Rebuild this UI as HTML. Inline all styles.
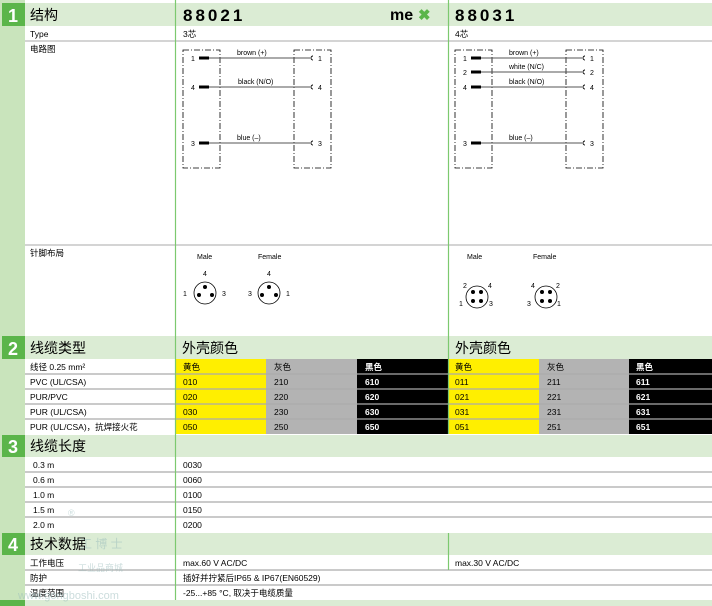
<!DOCTYPE html>
<html><head><meta charset="utf-8"><style>
body{margin:0;background:#fff}
svg{display:block}
text{font-family:"Liberation Sans","Noto Sans CJK SC",sans-serif}
</style></head><body>
<svg width="712" height="606" viewBox="0 0 712 606" xmlns="http://www.w3.org/2000/svg">
<defs>
<g id="pinM"><circle r="12" fill="none" stroke="#000" stroke-width="0.8"/></g>
</defs>
<rect width="712" height="606" fill="#fff"/>
<!-- left strip -->
<rect x="0" y="0" width="25" height="606" fill="#c9e4bc"/>
<!-- section headers -->
<rect x="25" y="3" width="687" height="23" fill="#dbecd4"/>
<rect x="25" y="336" width="687" height="23" fill="#dbecd4"/>
<rect x="25" y="435" width="687" height="22" fill="#dbecd4"/>
<rect x="25" y="533" width="687" height="22" fill="#dbecd4"/>
<rect x="0" y="600" width="712" height="6" fill="#dbecd4"/>
<rect x="0" y="600" width="25" height="6" fill="#5bb54a"/>
<rect x="2" y="3" width="23" height="23" fill="#5bb54a"/>
<rect x="2" y="336" width="23" height="23" fill="#5bb54a"/>
<rect x="2" y="435" width="23" height="22" fill="#5bb54a"/>
<rect x="2" y="533" width="23" height="22" fill="#5bb54a"/>
<g font-weight="bold" fill="#fff" font-size="18" text-anchor="middle">
<text x="13" y="22">1</text><text x="13" y="355">2</text><text x="13" y="453">3</text><text x="13" y="551">4</text></g>
<!-- header texts -->
<g font-size="14" fill="#000">
<text x="30" y="20">结构</text><text x="30" y="353">线缆类型</text><text x="30" y="451">线缆长度</text><text x="30" y="549">技术数据</text>
<text x="182" y="353">外壳颜色</text><text x="455" y="353">外壳颜色</text></g>
<text x="183" y="21" font-size="17" font-weight="bold" letter-spacing="3">88021</text>
<text x="455" y="21" font-size="17" font-weight="bold" letter-spacing="3">88031</text>
<text x="390" y="20" font-size="16" font-weight="bold">me</text>
<text x="418" y="20" font-size="15" font-weight="bold" fill="#5bb54a">✖</text>
<!-- row 1 -->
<g font-size="8.5"><text x="30" y="37">Type</text><text x="183" y="37">3芯</text><text x="455" y="37">4芯</text>
<text x="30" y="52">电路图</text><text x="30" y="256">针脚布局</text></g>
<line x1="25" y1="41" x2="712" y2="41" stroke="#bbb" stroke-width="1.2"/>
<line x1="25" y1="245" x2="712" y2="245" stroke="#bbb" stroke-width="1.2"/>
<!-- circuit diagrams -->
<g stroke="#000" stroke-width="0.8" fill="none" stroke-dasharray="6,2,1,2">
<rect x="183" y="50" width="37" height="118"/><rect x="294" y="50" width="37" height="118"/>
<rect x="455" y="50" width="37" height="118"/><rect x="566" y="50" width="37" height="118"/></g>
<g stroke="#555" stroke-width="1">
<line x1="200" y1="58" x2="310" y2="58"/><line x1="200" y1="87" x2="310" y2="87"/><line x1="200" y1="143" x2="310" y2="143"/>
<line x1="472" y1="58" x2="582" y2="58"/><line x1="472" y1="72" x2="582" y2="72"/><line x1="472" y1="87" x2="582" y2="87"/><line x1="472" y1="143" x2="582" y2="143"/></g>
<g fill="#000">
<rect x="199" y="56.5" width="10" height="3"/><rect x="199" y="85.5" width="10" height="3"/><rect x="199" y="141.5" width="10" height="3"/>
<rect x="471" y="56.5" width="10" height="3"/><rect x="471" y="70.5" width="10" height="3"/><rect x="471" y="85.5" width="10" height="3"/><rect x="471" y="141.5" width="10" height="3"/></g>
<g fill="none" stroke="#000" stroke-width="0.9">
<path d="M313 56 a2 2 0 0 0 0 4"/><path d="M313 85 a2 2 0 0 0 0 4"/><path d="M313 141 a2 2 0 0 0 0 4"/>
<path d="M585 56 a2 2 0 0 0 0 4"/><path d="M585 70 a2 2 0 0 0 0 4"/><path d="M585 85 a2 2 0 0 0 0 4"/><path d="M585 141 a2 2 0 0 0 0 4"/></g>
<g font-size="7" fill="#000">
<text x="191" y="61">1</text><text x="191" y="90">4</text><text x="191" y="146">3</text>
<text x="318" y="61">1</text><text x="318" y="90">4</text><text x="318" y="146">3</text>
<text x="463" y="61">1</text><text x="463" y="75">2</text><text x="463" y="90">4</text><text x="463" y="146">3</text>
<text x="590" y="61">1</text><text x="590" y="75">2</text><text x="590" y="90">4</text><text x="590" y="146">3</text>
<text x="237" y="55">brown (+)</text><text x="238" y="84">black  (N/O)</text><text x="237" y="140">blue (–)</text>
<text x="509" y="55">brown (+)</text><text x="509" y="69">white  (N/C)</text><text x="509" y="84">black   (N/O)</text><text x="509" y="140">blue  (–)</text>
<text x="197" y="259">Male</text><text x="258" y="259">Female</text>
<text x="467" y="259">Male</text><text x="533" y="259">Female</text></g>
<!-- pin diagrams -->
<g fill="none" stroke="#000" stroke-width="0.8">
<circle cx="205" cy="293" r="11"/><circle cx="269" cy="293" r="11"/><circle cx="477" cy="297" r="11"/><circle cx="546" cy="297" r="11"/></g>
<g fill="#000">
<circle cx="205" cy="287" r="2"/><circle cx="199" cy="295" r="2"/><circle cx="212" cy="295" r="2"/>
<circle cx="269" cy="287" r="2"/><circle cx="262" cy="295" r="2"/><circle cx="276" cy="295" r="2"/>
<circle cx="473" cy="292" r="2"/><circle cx="481" cy="292" r="2"/><circle cx="473" cy="301" r="2"/><circle cx="481" cy="301" r="2"/>
<circle cx="542" cy="292" r="2"/><circle cx="550" cy="292" r="2"/><circle cx="542" cy="301" r="2"/><circle cx="550" cy="301" r="2"/></g>
<g font-size="7" fill="#000">
<text x="203" y="276">4</text><text x="183" y="296">1</text><text x="222" y="296">3</text>
<text x="267" y="276">4</text><text x="248" y="296">3</text><text x="286" y="296">1</text>
<text x="463" y="288">2</text><text x="488" y="288">4</text><text x="459" y="306">1</text><text x="489" y="306">3</text>
<text x="531" y="288">4</text><text x="556" y="288">2</text><text x="527" y="306">3</text><text x="557" y="306">1</text></g>
<!-- color table -->
<g>
<rect x="176" y="359" width="90" height="75" fill="#ffef00"/><rect x="266" y="359" width="91" height="75" fill="#b3b3b3"/><rect x="357" y="359" width="91" height="75" fill="#000"/>
<rect x="448" y="359" width="91" height="75" fill="#ffef00"/><rect x="539" y="359" width="90" height="75" fill="#b3b3b3"/><rect x="629" y="359" width="83" height="75" fill="#000"/>
</g>
<g stroke="#aaa" stroke-width="1.2">
<line x1="25" y1="374" x2="712" y2="374"/><line x1="25" y1="389" x2="712" y2="389"/><line x1="25" y1="404" x2="712" y2="404"/><line x1="25" y1="419" x2="712" y2="419"/>
<line x1="25" y1="472" x2="712" y2="472"/><line x1="25" y1="487" x2="712" y2="487"/><line x1="25" y1="502" x2="712" y2="502"/><line x1="25" y1="517" x2="712" y2="517"/>
<line x1="25" y1="570" x2="712" y2="570"/><line x1="25" y1="585" x2="712" y2="585"/></g>
<g font-size="8.5" fill="#000">
<text x="30" y="370">线径 0.25 mm²</text><text x="30" y="385">PVC (UL/CSA)</text><text x="30" y="400">PUR/PVC</text><text x="30" y="415">PUR (UL/CSA)</text><text x="30" y="430">PUR (UL/CSA)，抗焊接火花</text>
<text x="183" y="370">黄色</text><text x="274" y="370">灰色</text><text x="455" y="370">黄色</text><text x="547" y="370">灰色</text>
<text x="183" y="385">010</text><text x="183" y="400">020</text><text x="183" y="415">030</text><text x="183" y="430">050</text>
<text x="274" y="385">210</text><text x="274" y="400">220</text><text x="274" y="415">230</text><text x="274" y="430">250</text>
<text x="455" y="385">011</text><text x="455" y="400">021</text><text x="455" y="415">031</text><text x="455" y="430">051</text>
<text x="547" y="385">211</text><text x="547" y="400">221</text><text x="547" y="415">231</text><text x="547" y="430">251</text></g>
<g font-size="8.5" fill="#fff" font-weight="bold">
<text x="365" y="370">黑色</text><text x="636" y="370">黑色</text>
<text x="365" y="385">610</text><text x="365" y="400">620</text><text x="365" y="415">630</text><text x="365" y="430">650</text>
<text x="636" y="385">611</text><text x="636" y="400">621</text><text x="636" y="415">631</text><text x="636" y="430">651</text></g>
<!-- lengths -->
<g font-size="8.5" fill="#000">
<text x="33" y="468">0.3 m</text><text x="33" y="483">0.6 m</text><text x="33" y="498">1.0 m</text><text x="33" y="513">1.5 m</text><text x="33" y="528">2.0 m</text>
<text x="183" y="468">0030</text><text x="183" y="483">0060</text><text x="183" y="498">0100</text><text x="183" y="513">0150</text><text x="183" y="528">0200</text>
<text x="30" y="566">工作电压</text><text x="30" y="581">防护</text><text x="30" y="596">温度范围</text>
<text x="183" y="566">max.60 V AC/DC</text><text x="455" y="566">max.30 V AC/DC</text>
<text x="183" y="581">插好并拧紧后IP65 &amp; IP67(EN60529)</text><text x="183" y="596">-25...+85 °C, 取决于电缆质量</text></g>
<!-- watermark -->
<g fill="#9bb" opacity="0.5" font-size="12"><text x="80" y="548">工 博 士</text><text x="78" y="571" font-size="9">工业品商城</text><text x="18" y="599" font-size="11">www.gongboshi.com</text><text x="68" y="516" font-size="9">®</text></g>
<!-- verticals -->
<line x1="175.5" y1="0" x2="175.5" y2="600" stroke="#7cc96f" stroke-width="1.2"/>
<line x1="448.5" y1="0" x2="448.5" y2="434" stroke="#7cc96f" stroke-width="1.2"/>
<line x1="448.5" y1="533" x2="448.5" y2="570" stroke="#7cc96f" stroke-width="1.2"/>
</svg>
</body></html>
